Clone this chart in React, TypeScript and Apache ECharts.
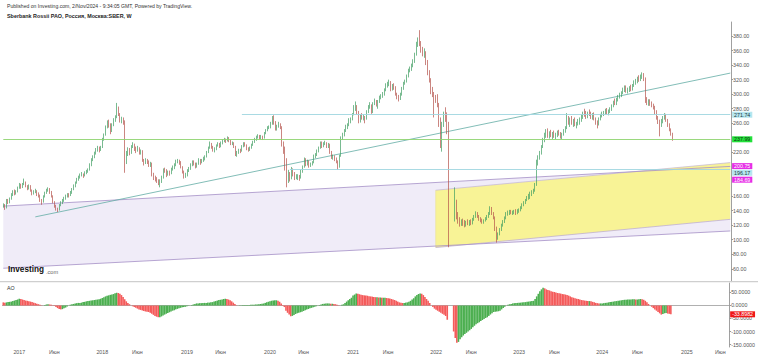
import React, { useEffect, useRef } from "react";
import * as echarts from "echarts";

type Bar = [number, number, number, number] | null; // [open, high, low, close]

// Weekly categories (Monday of each week)
const START_DATE = "2016-10-24";
const N_WEEKS = 455;
const categories: string[] = Array.from({ length: N_WEEKS }, (_, k) =>
  new Date(Date.parse(START_DATE) + k * 7 * 86400000).toISOString().slice(0, 10)
);

// Weekly OHLC [open, high, low, close]
const bars2016: Bar[] = [
  [147,150,144,148],[148,149,141,146],[146,156,143,153],[153,156,149,151],[151,158,150,157],
  [157,164,155,162],[162,168,160,166],[166,169,161,164],[164,168,162,166],[166,173,165,171],
];
const bars2017: Bar[] = [
  [171,178,170,175],[175,177,170,173],[173,178,171,176],[176,184,175,179],[179,180,172,174],
  [174,175,168,171],[171,176,169,174],[174,175,166,168],[168,169,161,164],[164,168,162,166],
  [166,170,164,167],[167,168,160,163],[163,165,158,161],[161,162,152,155],[155,156,148,152],
  [152,161,151,160],[160,166,158,165],[165,170,163,168],[168,172,166,170],[170,171,163,166],
  [166,167,158,160],[160,161,150,152],[152,153,144,146],[146,148,140,143],[143,144,138,141],
  [141,149,140,148],[148,153,146,151],[151,156,149,154],[154,159,152,157],[157,162,155,160],
  [160,164,158,162],[162,164,158,161],[161,167,160,165],[165,171,163,170],[170,176,168,174],
  [174,180,172,178],[178,185,177,183],[183,188,181,186],[186,191,184,189],[189,193,187,190],
  [190,191,185,188],[188,194,187,192],[192,196,190,194],[194,198,192,196],[196,205,195,203],
  [203,212,201,210],[210,216,208,214],[214,221,212,219],[219,226,217,224],[224,229,221,226],
  [226,228,220,224],[224,229,222,227],
];
const bars2018: Bar[] = [
  [227,240,226,238],[238,246,236,244],[244,257,243,255],[255,264,253,262],[262,265,254,258],
  [258,260,245,250],[250,260,248,258],[258,267,256,265],[265,271,262,268],[268,288,267,280],
  [280,283,270,272],[272,274,261,264],[264,269,260,266],[266,268,258,262],[262,264,192,208],
  [208,222,204,218],[218,227,215,224],[224,226,216,220],[220,230,218,228],[228,234,226,230],
  [230,232,222,225],[225,228,219,224],[224,229,221,226],[226,227,217,220],[220,224,217,222],
  [222,223,207,210],[210,211,202,206],[206,212,204,210],[210,211,204,207],[207,209,200,203],
  [203,207,200,205],[205,206,187,190],[190,192,182,185],[185,188,180,183],[183,186,178,181],
  [181,183,175,178],[178,183,172,180],[180,188,178,185],[185,198,184,196],[196,199,192,195],
  [195,197,186,190],[190,195,188,193],[193,195,188,191],[191,199,190,197],[197,202,195,200],
  [200,205,197,203],[203,210,201,208],[208,211,205,209],[209,210,203,207],[207,208,198,200],
  [200,201,191,194],[194,195,184,187],[187,192,185,189],
];
const bars2019: Bar[] = [
  [189,197,187,195],[195,200,193,198],[198,205,196,203],[203,209,201,207],[207,209,202,205],
  [205,206,198,200],[200,206,199,204],[204,212,203,210],[210,211,203,206],[206,211,205,209],
  [209,214,207,212],[212,216,209,214],[214,222,213,220],[220,228,219,226],[226,235,225,232],
  [232,233,225,227],[227,229,221,224],[224,227,220,225],[225,231,223,230],[230,234,228,232],
  [232,233,226,228],[228,235,227,233],[233,238,231,236],[236,240,234,238],[238,239,233,236],
  [236,242,235,240],[240,241,234,236],[236,237,230,232],[232,235,230,233],[233,234,226,228],
  [228,229,215,218],[218,222,214,220],[220,225,218,223],[223,225,219,222],[222,230,221,228],
  [228,234,227,232],[232,234,228,230],[230,231,223,225],[225,227,221,224],[224,228,222,226],
  [226,232,225,230],[230,236,229,234],[234,240,233,238],[238,243,236,241],[241,245,239,243],
  [243,244,238,240],[240,244,238,242],[242,243,237,240],[240,248,239,246],[246,252,245,250],
  [250,256,249,254],[254,257,252,255],
];
const bars2020: Bar[] = [
  [255,262,253,260],[260,270,258,267],[267,271,258,262],[262,263,250,253],[253,258,250,256],
  [256,262,254,258],[258,260,252,255],[255,256,228,232],[232,235,218,225],[225,228,195,210],
  [210,212,172,183],[183,196,178,190],[190,193,180,185],[185,200,183,196],[196,198,187,190],
  [190,193,182,185],[185,190,183,187],[187,190,182,187],[187,189,181,185],[185,196,184,194],
  [194,202,192,200],[200,213,199,210],[210,212,201,205],[205,210,202,207],[207,209,199,202],
  [202,206,200,203],[203,208,202,206],[206,217,205,215],[215,219,212,217],[217,224,215,222],
  [222,228,220,226],[226,235,225,233],[233,235,226,229],[229,234,227,232],[232,236,230,233],
  [233,234,226,228],[228,233,226,231],[231,232,218,220],[220,222,211,213],[213,217,210,214],
  [214,216,208,212],[212,213,205,208],[208,209,196,200],[200,217,199,215],[215,242,214,240],
  [240,247,237,244],[244,252,242,250],[250,258,248,255],[255,260,252,258],[258,267,256,265],
  [265,268,260,266],[266,274,264,272],
];
const bars2021: Bar[] = [
  [272,285,271,280],[280,290,277,283],[283,285,272,275],[275,277,260,263],[263,272,261,270],
  [270,274,265,268],[268,272,264,268],[268,270,260,266],[266,278,265,276],[276,285,274,283],
  [283,289,280,284],[284,286,273,276],[276,289,274,287],[287,294,285,290],[290,292,283,285],
  [285,292,280,290],[290,298,288,296],[296,300,293,298],[298,303,295,300],[300,308,298,306],
  [306,315,304,313],[313,317,309,314],[314,320,311,316],[316,318,304,307],[307,314,305,312],
  [312,315,306,309],[309,311,298,300],[300,302,293,297],[297,299,290,294],[294,302,292,300],
  [300,310,298,308],[308,317,306,315],[315,320,313,318],[318,327,316,325],[325,335,323,333],
  [333,338,330,335],[335,342,332,340],[340,348,337,345],[345,357,343,355],[355,372,353,370],
  [370,378,365,374],[374,388,366,370],[370,373,357,361],[361,365,352,358],[358,363,350,358],
  [358,359,340,345],[345,347,326,330],[330,333,316,320],[320,322,300,305],[305,310,296,300],
  [300,303,268,296],[296,299,288,293],
];
const bars2022: Bar[] = [
  [293,300,282,285],[285,288,255,262],[262,268,226,245],[245,262,221,258],[258,276,255,270],
  [270,282,262,268],[268,275,245,258],[258,262,89.6,131],null,null,
  null,[131,172,125,150],[150,155,128,133],[133,138,122,128],[128,131,118,122],
  [122,128,119,125],[125,129,119,123],[123,127,117,120],[120,126,118,124],[124,128,120,122],
  [122,127,119,125],[125,128,120,123],[123,130,121,128],[128,134,126,132],[132,139,130,137],
  [137,138,130,132],[132,134,126,128],[128,131,124,126],[126,129,122,125],[125,128,122,127],
  [127,131,125,130],[130,134,127,132],[132,138,130,136],[136,146,134,143],[143,145,134,136],
  [136,138,128,130],[130,132,112,116],[116,118,96,103],[103,110,100,108],[108,116,106,114],
  [114,122,112,120],[120,127,118,125],[125,132,123,130],[130,138,128,136],[136,140,133,137],
  [137,141,134,139],[139,141,135,137],[137,140,134,138],[138,141,135,139],[139,142,134,137],
  [137,142,135,140],[140,143,137,141],
];
const bars2023: Bar[] = [
  [141,146,139,144],[144,150,142,148],[148,153,146,151],[151,156,149,155],[155,160,153,158],
  [158,163,155,161],[161,166,156,163],[163,168,160,166],[166,170,163,168],[168,178,166,176],
  [176,210,174,205],[205,216,202,213],[213,222,210,219],[219,230,217,228],[228,240,226,238],
  [238,247,234,244],[244,252,240,248],[248,253,240,244],[244,249,239,246],[246,251,241,243],
  [243,248,238,246],[246,250,240,242],[242,247,238,245],[245,250,241,248],[248,251,243,245],
  [245,248,239,242],[242,247,238,245],[245,252,243,250],[250,256,247,254],[254,274,252,265],
  [265,270,258,262],[262,268,255,266],[266,270,258,260],[260,266,255,264],[264,268,256,258],
  [258,262,253,260],[260,266,257,263],[263,268,258,266],[266,272,262,270],[270,276,266,274],
  [274,280,269,272],[272,277,266,270],[270,276,267,275],[275,279,270,272],[272,276,266,268],
  [268,274,265,272],[272,275,264,266],[266,268,258,261],[261,264,253,258],[258,268,257,266],
  [266,273,264,270],[270,276,268,273],
];
const bars2024: Bar[] = [
  [273,277,270,275],[275,280,272,277],[277,281,272,274],[274,279,271,277],[277,282,274,279],
  [279,286,277,284],[284,291,282,289],[289,294,285,287],[287,295,285,293],[293,299,290,297],
  [297,302,294,299],[299,304,296,302],[302,309,300,307],[307,312,303,309],[309,312,302,305],
  [305,309,301,307],[307,311,303,309],[309,313,304,306],[306,314,305,312],[312,319,310,317],
  [317,321,313,319],[319,324,315,322],[322,326,317,320],[320,327,318,325],[325,330,321,326],
  [326,329,318,322],[322,323,288,292],[292,296,285,288],[288,293,284,290],[290,293,284,287],
  [287,290,282,285],[285,287,279,283],[283,284,272,276],[276,278,265,268],[268,270,259,262],
  [262,265,242,258],[258,266,255,264],[264,270,260,268],[268,274,265,271],[271,273,262,264],
  [264,266,255,257],[257,260,249,251],[251,253,243,245],[245,247,236,237.99],
];

// Awesome Oscillator, weekly values
const ao2016 = [12, 11, 12, 13, 14, 15, 17, 19, 21, 23];
const ao2017 = [
  26, 25, 23, 21, 19, 18, 16, 15, 13, 11, 9, 7, 5, 3, 1, 0,
  2, 4, 5, 4, 3, 1, -2, -6, -10, -13, -15, -14, -11, -8, -4, 0,
  3, 5, 6, 8, 9, 10, 10, 11, 13, 14, 16, 17, 18, 19, 20, 21, 22, 23, 24, 26,
];
const ao2018 = [
  29, 32, 35, 37, 39, 41, 42, 44, 47, 49, 48, 45, 40, 33, 24, 16, 10, 5, 0,
  -3, -6, -9, -12, -15, -17, -19, -21, -23, -24, -25, -28, -32, -36, -40, -43, -45, -45, -42, -38, -35,
  -32, -29, -26, -23, -20, -18, -15, -13, -11, -9, -7, -6, -5,
];
const ao2019 = [
  -3, -1, 0, 2, 4, 6, 8, 8, 9, 9, 10, 10, 10, 11, 11, 12, 13, 15, 17, 19, 21,
  22, 23, 25, 26, 25, 23, 20, 16, 11, 6, 1, 0, 1, 1, 2, 2, 2, 2, 2, 3, 3,
  3, 4, 4, 5, 6, 7, 8, 10, 12, 14,
];
const ao2020 = [
  16, 18, 19, 20, 20, 18, 14, 8, 2, -6, -20, -28, -35, -41, -40, -37, -33, -30, -28, -26,
  -24, -21, -18, -15, -13, -11, -9, -7, -5, -3, 0, 2, 4, 6, 7, 8, 8, 8, 7, 7, 6, 5,
  3, 1, 0, 3, 5, 10, 15, 20, 25, 30,
];
const ao2021 = [
  38, 42, 46, 45, 43, 41, 40, 39, 38, 37, 36, 35, 34, 33, 32, 32, 31, 31, 30, 30, 30,
  29, 28, 27, 25, 23, 21, 18, 15, 12, 11, 10, 10, 11, 12, 14, 18, 23, 28, 35, 40, 44,
  46, 45, 40, 33, 25, 18, 10, 0, -6, -12,
];
const ao2022 = [
  -16, -20, -24, -28, -32, -36, -40, -55, null, null, null,
  -100, -125, -143, -140, -130, -122, -115, -110, -105, -100,
  -95, -90, -84, -78, -72, -68, -64, -60, -56, -52,
  -48, -45, -40, -35, -30, -25, -24, -23, -22, -20, -15,
  -10, -5, 0, 3, 5, 6, 8, 9, 10, 10,
];
const ao2023 = [
  11, 11, 12, 12, 13, 14, 15, 16, 17, 18, 25, 35, 45, 55, 62, 68, 66, 62, 60, 58,
  55, 53, 52, 50, 48, 47, 46, 44, 43, 42, 40, 38, 35, 32, 30, 28, 26, 25, 23, 21, 20, 19,
  18, 17, 17, 16, 14, 12, 10, 9, 8, 8,
];
const ao2024 = [
  8, 9, 10, 11, 12, 13, 14, 15, 16, 17, 18, 19, 20, 21, 22, 22, 23, 23, 23, 24,
  24, 23, 23, 24, 25, 24, 22, 18, 12, 6, 0, -5, -10, -15, -20, -25, -30, -35, -33, -30,
  -29, -31, -32, -33.8982,
];

// Chart drawings: [date, price]
const trendLine: [string, number][] = [["2017-03-13", 131.4], ["2025-07-07", 329]];
const channelUpper: [string, number][] = [["2016-10-24", 146.2], ["2025-07-07", 200.75]];
const channelLower: [string, number][] = [["2016-10-24", 60.8], ["2025-07-07", 112]];
const yellowTop: [string, number][] = [["2021-12-27", 168], ["2025-07-07", 206]];
const yellowBottom: [string, number][] = [["2021-12-27", 89.2], ["2025-07-07", 128]];
const hLines: { from: string; value: number; color: string }[] = [
  { from: "2019-09-02", value: 271.74, color: "#9fd6e0" },
  { from: "2016-10-24", value: 237.99, color: "#8fd46f" },
  { from: "2020-03-30", value: 196.17, color: "#9fd6e0" },
];
// price tags on the right scale; shift = vertical nudge of the tag (px) to avoid overlap
const priceTags: { value: number; bg: string; fg: string; shift: number }[] = [
  { value: 271.74, bg: "#b6e6ef", fg: "#1b3a40", shift: 0 },
  { value: 237.99, bg: "#22e03a", fg: "#103010", shift: 0 },
  { value: 200.75, bg: "#e62ee6", fg: "#ffffff", shift: -0.3 },
  { value: 196.17, bg: "#b6e6ef", fg: "#1b3a40", shift: 3 },
  { value: 184.69, bg: "#e62ee6", fg: "#ffffff", shift: 1.6 },
];
const aoTag = { value: -33.8982, bg: "#f01818", fg: "#ffffff" };

const priceTicks = [60, 80, 100, 120, 140, 160, 220, 260, 280, 300, 320, 340, 360, 380];
const aoTicks = [50, 0, -50, -100, -150];

const FONT = '"Liberation Sans", Arial, sans-serif';
const UP = "#3f9e62";
const DOWN = "#b4524b";
const CLEAR = "rgba(0,0,0,0)";

export default function App() {
  const ref = useRef<HTMLDivElement>(null);
  useEffect(() => {
    document.body.style.margin = "0";
    const chart = echarts.init(ref.current!, null, { renderer: "svg" });

    const allBars: Bar[] = [
      ...bars2016, ...bars2017, ...bars2018, ...bars2019, ...bars2020,
      ...bars2021, ...bars2022, ...bars2023, ...bars2024,
    ];
    const candleData = allBars.map((b) => (b ? [b[0], b[3], b[2], b[1]] : "-"));
    const aoAll: (number | null)[] = [
      ...ao2016, ...ao2017, ...ao2018, ...ao2019, ...ao2020,
      ...ao2021, ...ao2022, ...ao2023, ...ao2024,
    ];
    let prev: number | null = null;
    const aoData = aoAll.map((v) => {
      if (v == null) return "-";
      const color = prev == null || v < prev ? "#f45a5a" : "#4caf50";
      prev = v;
      return { value: v, itemStyle: { color } };
    });

    const idx = (d: string) => categories.indexOf(d);
    const lastIdx = categories.length - 1;

    const labelFilter = (_i: number, value: string) => {
      const m = +value.slice(5, 7);
      const d = +value.slice(8, 10);
      return d <= 7 && (m === 1 || m === 6);
    };

    const tagLabel = (text: string, bg: string, fg: string, shift: number) => ({
      show: true, position: "end", distance: 1, formatter: text,
      backgroundColor: bg, color: fg, fontSize: 5.3, fontFamily: FONT,
      padding: [1, 2, 0, 2], offset: [0, shift],
    });

    const option: any = {
      animation: false,
      backgroundColor: "#ffffff",
      grid: [
        { left: 2.5, right: 26.9, top: 22, height: 259.7 },
        { left: 2.5, right: 26.9, top: 283, height: 64 },
      ],
      xAxis: [
        { type: "category", gridIndex: 0, data: categories, boundaryGap: true, show: false },
        {
          type: "category", gridIndex: 1, data: categories, boundaryGap: true,
          axisLine: { lineStyle: { color: "#b0b0b0", width: 1 } },
          axisTick: { interval: labelFilter, length: 2, lineStyle: { color: "#999" } },
          axisLabel: {
            interval: labelFilter, margin: 2, fontSize: 5.3, color: "#555", fontFamily: FONT,
            formatter: (v: string) => (+v.slice(5, 7) === 1 ? v.slice(0, 4) : "Июн"),
          },
          splitLine: { show: false },
        },
      ],
      yAxis: [
        {
          type: "value", gridIndex: 0, position: "right", min: 42.3, max: 399.2,
          axisLine: { show: true, lineStyle: { color: "#a0a0a0", width: 1 } },
          axisTick: { show: true, customValues: priceTicks, length: 2, lineStyle: { color: "#999" } },
          axisLabel: {
            customValues: priceTicks, formatter: (v: number) => v.toFixed(2),
            fontSize: 5.3, color: "#555", margin: 2, fontFamily: FONT,
          },
          splitLine: { show: false },
        },
        {
          type: "value", gridIndex: 1, position: "right", min: -159.6, max: 86.5,
          axisLine: { show: true, lineStyle: { color: "#a0a0a0", width: 1 } },
          axisTick: { show: true, customValues: aoTicks, length: 2, lineStyle: { color: "#999" } },
          axisLabel: {
            customValues: aoTicks, formatter: (v: number) => v.toFixed(4),
            fontSize: 5.3, color: "#555", margin: 2, fontFamily: FONT,
          },
          splitLine: { show: false },
        },
      ],
      graphic: [
        {
          type: "text", left: 7, top: 3, silent: true,
          style: { text: "Published on Investing.com, 2/Nov/2024 - 9:34:05 GMT, Powered by TradingView.", fontSize: 5.1, fill: "#333", fontFamily: FONT },
        },
        {
          type: "text", left: 7, top: 13, silent: true,
          style: { text: "Sberbank Rossii PAO, Россия, Москва:SBER, W", fontSize: 5.4, fontWeight: "bold", fill: "#1e1e1e", fontFamily: FONT },
        },
        {
          type: "text", left: 8, top: 265.5, silent: true, z: 100,
          style: { text: "Investing", fontSize: 8.2, fontWeight: "bold", fill: "#111", fontFamily: FONT },
        },
        {
          type: "text", left: 46, top: 269, silent: true, z: 100,
          style: { text: ".com", fontSize: 5.6, fill: "#666", fontFamily: FONT },
        },
        {
          type: "text", left: 7, top: 285, silent: true,
          style: { text: "AO", fontSize: 5.3, fill: "#333", fontFamily: FONT },
        },
        {
          type: "line", silent: true, z: 50,
          shape: { x1: 0, y1: 281.7, x2: 758, y2: 281.7 },
          style: { stroke: "#cfcfcf", lineWidth: 1.2 },
        },
      ],
      series: [
        {
          type: "custom", xAxisIndex: 0, yAxisIndex: 0, silent: true, clip: true, z: 1,
          data: [0],
          renderItem: (_p: any, api: any) => {
            const P = (pt: [string, number]) => api.coord([idx(pt[0]), pt[1]]);
            const cu0 = P(channelUpper[0]), cu1 = P(channelUpper[1]);
            const cl0 = P(channelLower[0]), cl1 = P(channelLower[1]);
            const yt0 = P(yellowTop[0]), yt1 = P(yellowTop[1]);
            const yb0 = P(yellowBottom[0]), yb1 = P(yellowBottom[1]);
            return {
              type: "group",
              children: [
                { type: "polygon", shape: { points: [cu0, cu1, cl1, cl0] }, style: { fill: "#f0ecf8", stroke: "none" } },
                { type: "polygon", shape: { points: [yt0, yt1, yb1, yb0] }, style: { fill: "#f8f396", stroke: "none" } },
                { type: "line", shape: { x1: yt0[0], y1: yt0[1], x2: yt1[0], y2: yt1[1] }, style: { stroke: "#c2b4d8", lineWidth: 0.7 } },
                { type: "line", shape: { x1: yb0[0], y1: yb0[1], x2: yb1[0], y2: yb1[1] }, style: { stroke: "#b9a8d2", lineWidth: 0.7 } },
                { type: "line", shape: { x1: yt0[0], y1: yt0[1], x2: yb0[0], y2: yb0[1] }, style: { stroke: "#e8e090", lineWidth: 0.5 } },
                { type: "line", shape: { x1: cu0[0], y1: cu0[1], x2: cu1[0], y2: cu1[1] }, style: { stroke: "#a48fc6", lineWidth: 0.8 } },
                { type: "line", shape: { x1: cl0[0], y1: cl0[1], x2: cl1[0], y2: cl1[1] }, style: { stroke: "#a48fc6", lineWidth: 0.8 } },
              ],
            };
          },
        },
        {
          type: "line", xAxisIndex: 0, yAxisIndex: 0, silent: true, z: 3,
          symbol: "none",
          data: trendLine.map(([d, v]) => [idx(d), v]),
          lineStyle: { color: "#62aca4", width: 0.8 },
        },
        {
          type: "candlestick", xAxisIndex: 0, yAxisIndex: 0, z: 4,
          barWidth: 1.2,
          data: candleData,
          itemStyle: { color: UP, color0: DOWN, borderColor: UP, borderColor0: DOWN, borderWidth: 0.7 },
          markLine: {
            silent: true, symbol: "none", animation: false,
            data: [
              ...hLines.map((h) => [
                { coord: [idx(h.from), h.value], lineStyle: { color: h.color, width: 0.9, type: "solid", opacity: 1 }, label: { show: false } },
                { coord: [lastIdx, h.value], lineStyle: { color: h.color, width: 0.9, type: "solid", opacity: 1 }, label: { show: false } },
              ]),
              ...priceTags.map((t) => ({
                yAxis: t.value,
                lineStyle: { color: CLEAR, width: 0 },
                label: tagLabel(t.value.toFixed(2), t.bg, t.fg, t.shift),
              })),
            ],
          },
        },
        {
          type: "bar", xAxisIndex: 1, yAxisIndex: 1, silent: true,
          barWidth: "100%", barCategoryGap: "0%",
          data: aoData,
          markLine: {
            silent: true, symbol: "none", animation: false,
            data: [
              {
                yAxis: aoTag.value, lineStyle: { color: CLEAR, width: 0 },
                label: tagLabel(aoTag.value.toFixed(4), aoTag.bg, aoTag.fg, 0),
              },
            ],
          },
        },
      ],
    };
    chart.setOption(option);
    return () => chart.dispose();
  }, []);
  return <div ref={ref} style={{ width: 758, height: 357 }} />;
}
